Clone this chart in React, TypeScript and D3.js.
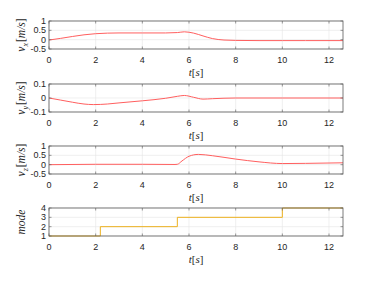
import * as d3 from "d3";

const T_MAX = 12.6;
const X_TICKS = [0, 2, 4, 6, 8, 10, 12];

// v_x [m/s]
const vxTime = [0, 0.5, 1, 1.5, 2, 2.5, 3, 4, 5, 5.5, 5.8, 6.2, 6.6, 7, 7.5, 8, 9, 10, 11, 12.6];
const vxVals = [-0.02, 0.07, 0.17, 0.26, 0.32, 0.35, 0.36, 0.36, 0.36, 0.38, 0.42, 0.35, 0.2, 0.06, -0.02, -0.04, -0.05, -0.05, -0.05, -0.05];

// v_y [m/s]
const vyTime = [0, 0.5, 1, 1.5, 1.9, 2.5, 3, 4, 5, 5.5, 5.8, 6.2, 6.6, 7, 8, 10, 12.6];
const vyVals = [0, -0.015, -0.03, -0.043, -0.047, -0.043, -0.035, -0.02, -0.002, 0.012, 0.018, 0.005, -0.008, -0.005, 0, 0, 0];

// v_z [m/s]
const vzTime = [0, 2, 4, 5.4, 5.5, 5.7, 6, 6.4, 7, 8, 9, 10, 11, 12.6];
const vzVals = [0.0, 0.02, 0.02, 0.01, 0.02, 0.2, 0.45, 0.55, 0.48, 0.3, 0.15, 0.06, 0.07, 0.1];

// mode switches
const modeTime = [0, 2.2, 5.5, 10, 12.6];
const modeVals = [1, 2, 3, 4, 4];

const RED = "#ff5f5f";
const YELLOW = "#edb120";
const LEFT = 49;
const RIGHT = 343;
const H = 28;
const TICK_FONT = "Liberation Sans, Arial, sans-serif";
const LABEL_FONT = "Liberation Serif, Times New Roman, serif";

type PanelProps = {
  top: number;
  time: number[];
  vals: number[];
  yDomain: [number, number];
  yTicks: number[];
  color: string;
  step?: boolean;
  label: React.ReactNode;
};

function Panel({ top, time, vals, yDomain, yTicks, color, step, label }: PanelProps) {
  const x = d3.scaleLinear().domain([0, T_MAX]).range([LEFT, RIGHT]);
  const y = d3.scaleLinear().domain(yDomain).range([top + H, top]);
  const line = d3
    .line<number>()
    .x((_, i) => x(time[i]))
    .y((d) => y(d))
    .curve(step ? d3.curveStepAfter : d3.curveMonotoneX);
  const tl = 2.5;
  return (
    <g>
      {X_TICKS.map((t) => (
        <line key={`gx${t}`} x1={x(t)} x2={x(t)} y1={top} y2={top + H} stroke="#e6e6e6" strokeWidth={0.6} />
      ))}
      {yTicks.map((v) => (
        <line key={`gy${v}`} x1={LEFT} x2={RIGHT} y1={y(v)} y2={y(v)} stroke="#e6e6e6" strokeWidth={0.6} />
      ))}
      <path d={line(vals) ?? ""} fill="none" stroke={color} strokeWidth={1} />
      <rect x={LEFT} y={top} width={RIGHT - LEFT} height={H} fill="none" stroke="#5a5a5a" strokeWidth={0.8} />
      {X_TICKS.map((t) => (
        <g key={`tx${t}`}>
          <line x1={x(t)} x2={x(t)} y1={top + H} y2={top + H - tl} stroke="#5a5a5a" strokeWidth={0.6} />
          <line x1={x(t)} x2={x(t)} y1={top} y2={top + tl} stroke="#5a5a5a" strokeWidth={0.6} />
          <text x={x(t)} y={top + H + 14} textAnchor="middle" fontSize={9} fontFamily={TICK_FONT} fill="#262626">
            {t}
          </text>
        </g>
      ))}
      {yTicks.map((v) => (
        <g key={`ty${v}`}>
          <line x1={LEFT} x2={LEFT + tl} y1={y(v)} y2={y(v)} stroke="#5a5a5a" strokeWidth={0.6} />
          <line x1={RIGHT} x2={RIGHT - tl} y1={y(v)} y2={y(v)} stroke="#5a5a5a" strokeWidth={0.6} />
          <text x={LEFT - 3} y={y(v) + 3} textAnchor="end" fontSize={9} fontFamily={TICK_FONT} fill="#262626">
            {v}
          </text>
        </g>
      ))}
      <text x={(LEFT + RIGHT) / 2} y={top + H + 27} textAnchor="middle" fontSize={11} fontFamily={LABEL_FONT} fill="#262626">
        <tspan fontStyle="italic">t</tspan>[<tspan fontStyle="italic">s</tspan>]
      </text>
      <text
        transform={`translate(25, ${top + H / 2}) rotate(-90)`}
        textAnchor="middle"
        fontSize={11.5}
        fontFamily={LABEL_FONT}
        fill="#262626"
      >
        {label}
      </text>
    </g>
  );
}

function velLabel(sub: string) {
  return (
    <>
      <tspan fontStyle="italic">v</tspan>
      <tspan fontStyle="italic" fontSize={8} dy={2.5}>{sub}</tspan>
      <tspan dy={-2.5} dx={1}>[</tspan>
      <tspan fontStyle="italic">m/s</tspan>]
    </>
  );
}

export default function App() {
  return (
    <svg
      width={379}
      height={285}
      style={{ position: "absolute", left: 0, top: 0, background: "#fff" }}
    >
      <Panel top={21} time={vxTime} vals={vxVals} yDomain={[-0.5, 1]} yTicks={[-0.5, 0, 0.5, 1]} color={RED} label={velLabel("x")} />
      <Panel top={84} time={vyTime} vals={vyVals} yDomain={[-0.1, 0.1]} yTicks={[-0.1, 0, 0.1]} color={RED} label={velLabel("y")} />
      <Panel top={146} time={vzTime} vals={vzVals} yDomain={[-0.5, 1]} yTicks={[-0.5, 0, 0.5, 1]} color={RED} label={velLabel("z")} />
      <Panel
        top={208}
        time={modeTime}
        vals={modeVals}
        yDomain={[1, 4]}
        yTicks={[1, 2, 3, 4]}
        color={YELLOW}
        step
        label={<tspan fontStyle="italic">mode</tspan>}
      />
    </svg>
  );
}
